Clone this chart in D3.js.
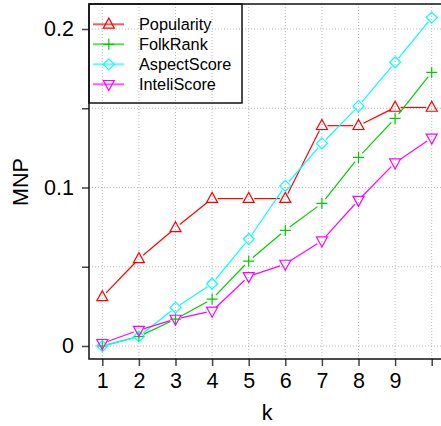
<!DOCTYPE html>
<html><head><meta charset="utf-8">
<script src="https://cdn.jsdelivr.net/npm/d3@7"></script>
<style>body{margin:0;background:#fff}svg{display:block}text{font-family:"Liberation Sans",Arial,sans-serif}</style>
</head><body>
<svg id="c" width="441" height="426"></svg>
<script>
const kValues = [1,2,3,4,5,6,7,8,9,10];
const xTickLabels = ["1","2","3","4","5","6","7","8","9",""];
const yTicks = [0,0.05,0.1,0.15,0.2];
const yTickLabels = ["0","","0.1","","0.2"];
const seriesNames = ["Popularity","FolkRank","AspectScore","InteliScore"];
const popularity = [0.031,0.055,0.0745,0.093,0.093,0.093,0.139,0.139,0.1505,0.1505];
const folkrank   = [0.0,0.006,0.017,0.0296,0.0536,0.073,0.090,0.119,0.1436,0.1726];
const aspect     = [0.0,0.006,0.0242,0.0393,0.0675,0.101,0.1278,0.1513,0.179,0.2072];
const inteli     = [0.0017,0.010,0.017,0.0221,0.0439,0.0517,0.0664,0.092,0.1156,0.1313];
const colors = ["#ff0000","#00cd00","#00ffff","#ff00ff"];
const shapes = ["tri","plus","diamond","tridown"];
const values = [popularity,folkrank,aspect,inteli];

const svg = d3.select("#c");
const L=89, T=4, B=359, R=446;
const x = d3.scaleLinear().domain([1,10]).range([102.3,431.7]);
const y = d3.scaleLinear().domain([0,0.2]).range([346,29]);

// grid
svg.append("g").selectAll("line").data(kValues).join("line")
  .attr("x1",d=>x(d)).attr("x2",d=>x(d)).attr("y1",T).attr("y2",B)
  .attr("stroke","#bbb").attr("stroke-width",1).attr("stroke-dasharray","1,2");
svg.append("g").selectAll("line").data(yTicks).join("line")
  .attr("y1",d=>y(d)).attr("y2",d=>y(d)).attr("x1",L).attr("x2",R)
  .attr("stroke","#bbb").attr("stroke-width",1).attr("stroke-dasharray","1,2");

// axes
const xAxis = d3.axisBottom(x).tickValues(kValues).tickSize(7).tickPadding(7)
  .tickFormat((d,i)=>xTickLabels[i]);
const gx = svg.append("g").attr("transform",`translate(0,${B})`).call(xAxis);
gx.select(".domain").remove();
gx.selectAll(".tick line").attr("stroke","#444").attr("stroke-width",1.5);
gx.selectAll(".tick text").attr("font-size",21.5).attr("fill","#000").attr("font-family","Liberation Sans, Arial, sans-serif");

const yAxis = d3.axisLeft(y).tickValues(yTicks).tickSize(7).tickPadding(8)
  .tickFormat((d,i)=>yTickLabels[i]);
const gy = svg.append("g").attr("transform",`translate(${L},0)`).call(yAxis);
gy.select(".domain").remove();
gy.selectAll(".tick line").attr("stroke","#444").attr("stroke-width",1.5);
gy.selectAll(".tick text").attr("font-size",21.5).attr("fill","#000").attr("font-family","Liberation Sans, Arial, sans-serif");

// box
svg.append("rect").attr("x",L).attr("y",T).attr("width",R-L).attr("height",B-T)
  .attr("fill","none").attr("stroke","#111").attr("stroke-width",1.5);

// marker path
function marker(shape, s){
  if(shape==="tri") return `M0,${-s*0.62}L${s*0.55},${s*0.38}L${-s*0.55},${s*0.38}Z`;
  if(shape==="tridown") return `M0,${s*0.62}L${s*0.55},${-s*0.38}L${-s*0.55},${-s*0.38}Z`;
  if(shape==="diamond") return `M0,${-s*0.55}L${s*0.55},0L0,${s*0.55}L${-s*0.55},0Z`;
  return `M${-s*0.55},0H${s*0.55}M0,${-s*0.55}V${s*0.55}`;
}
const gap = 5.5;
const msize = 10;
values.forEach((vals,si)=>{
  const pts = kValues.map((k,i)=>[x(k),y(vals[i])]);
  const g = svg.append("g");
  const segs = d3.pairs(pts).map(([a,b])=>{
    const dx=b[0]-a[0], dy=b[1]-a[1], len=Math.hypot(dx,dy);
    const ux=dx/len, uy=dy/len;
    return [a[0]+ux*gap,a[1]+uy*gap,b[0]-ux*gap,b[1]-uy*gap,len];
  }).filter(s=>s[4]>2*gap);
  g.selectAll("line").data(segs).join("line")
    .attr("x1",d=>d[0]).attr("y1",d=>d[1]).attr("x2",d=>d[2]).attr("y2",d=>d[3])
    .attr("stroke",colors[si]).attr("stroke-width",1.2);
  g.selectAll("path").data(pts).join("path")
    .attr("transform",d=>`translate(${d[0]},${d[1]})`)
    .attr("d",marker(shapes[si],msize)).attr("fill","none")
    .attr("stroke",colors[si]).attr("stroke-width",1.2);
});

// legend
svg.append("rect").attr("x",L).attr("y",T).attr("width",153).attr("height",99)
  .attr("fill","none").attr("stroke","#111").attr("stroke-width",1.5);
const lg = svg.append("g").selectAll("g").data(seriesNames).join("g")
  .attr("transform",(d,i)=>`translate(0,${24.3+i*20})`);
lg.append("line").attr("x1",93).attr("x2",124).attr("y1",0).attr("y2",0)
  .attr("stroke",(d,i)=>colors[i]).attr("stroke-width",2).attr("opacity",0.65);
lg.append("path").attr("transform","translate(108.8,0)")
  .attr("d",(d,i)=>marker(shapes[i],msize)).attr("fill","none")
  .attr("stroke",(d,i)=>colors[i]).attr("stroke-width",1.2);
lg.append("text").attr("x",139).attr("y",6).attr("font-size",16.3).text(d=>d);

// axis titles
svg.append("text").attr("x",267).attr("y",420).attr("text-anchor","middle").attr("font-size",21.5).text("k");
svg.append("text").attr("transform","translate(28,182) rotate(-90)").attr("text-anchor","middle").attr("font-size",21.5).text("MNP");
</script>
</body></html>
